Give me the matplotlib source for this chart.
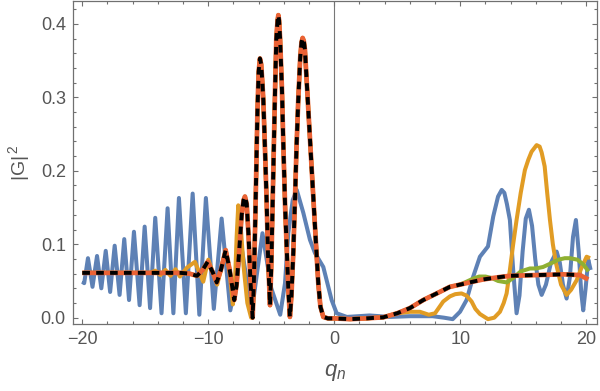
import numpy as np
import matplotlib
matplotlib.use("Agg")
import matplotlib.pyplot as plt
from matplotlib.ticker import MultipleLocator

plt.rcParams["font.family"] = ["Liberation Sans", "DejaVu Sans"]
plt.rcParams["mathtext.fontset"] = "custom"
plt.rcParams["mathtext.rm"] = "Liberation Sans"
plt.rcParams["mathtext.it"] = "Liberation Sans:italic"
plt.rcParams["lines.scale_dashes"] = False

# ---- data ----
blue_x = [-20, -19.85, -19.55, -19.19, -18.83, -18.49, -18.14, -17.79, -17.43, -17.04,
          -16.67, -16.29, -15.90, -15.45, -15.05, -14.62, -14.21, -13.71, -13.23, -12.77,
          -12.33, -11.78, -11.24, -10.71, -10.19, -9.56, -8.94, -8.25, -7.35, -6.55,
          -5.7, -5.0, -4.29, -3.91, -3.65, -3.3, -2.98, -2.46, -1.93, -1.53,
          -0.87, -0.21, 0.19, 1.0, 2.8, 4.4, 6.0, 7.8, 8.7, 9.4,
          9.98, 10.5, 11.03, 11.56, 12.2, 12.62, 13.0, 13.29, 13.5, 13.7,
          13.94, 14.2, 14.47, 14.7, 14.95, 15.2, 15.45, 15.7, 15.95, 16.2,
          16.46, 16.8, 17.2, 17.65, 17.9, 18.15, 18.44, 18.7, 18.95, 19.18,
          19.4, 19.6, 19.76, 19.95, 20.16, 20.35]
blue_y = [0.049, 0.047, 0.081, 0.042, 0.084, 0.040, 0.091, 0.035, 0.098, 0.031,
          0.107, 0.024, 0.117, 0.017, 0.124, 0.013, 0.136, 0.006, 0.149, 0.006,
          0.163, 0.006, 0.169, 0.004, 0.163, 0.012, 0.135, 0.010, 0.095, 0.008,
          0.115, 0.040, 0.004, 0.047, 0.115, 0.160, 0.174, 0.143, 0.106, 0.088,
          0.069, 0.024, 0.006, 0.001, 0.003, 0.001, 0.002, 0.002, 0.000, -0.002,
          0.008, 0.024, 0.056, 0.083, 0.097, 0.138, 0.165, 0.174, 0.170, 0.155,
          0.133, 0.065, 0.006, 0.030, 0.090, 0.135, 0.147, 0.125, 0.080, 0.045,
          0.031, 0.045, 0.075, 0.090, 0.075, 0.045, 0.026, 0.055, 0.110, 0.133,
          0.090, 0.035, 0.010, 0.040, 0.079, 0.065]

# shared middle part of the red / orange / green curves
mid_x = [-6.48, -6.38, -6.25, -6.1, -6.0, -5.9, -5.8, -5.7, -5.63, -5.5,
         -5.37, -5.25, -5.1, -5.0, -4.85, -4.7, -4.6, -4.5, -4.44, -4.38,
         -4.3, -4.15, -4.05, -3.9, -3.78, -3.65, -3.52, -3.4, -3.25, -3.12,
         -3.0, -2.86, -2.7, -2.6, -2.51, -2.42, -2.33, -2.0, -1.67, -1.45,
         -1.27, -1.1, -0.87, -0.5, 0.0, 1.25, 2.5, 3.89]
mid_y = [0.000, 0.050, 0.150, 0.280, 0.335, 0.353, 0.345, 0.318, 0.296, 0.230,
         0.160, 0.080, 0.017, 0.070, 0.190, 0.310, 0.380, 0.405, 0.412, 0.405,
         0.380, 0.310, 0.240, 0.150, 0.097, 0.040, 0.001, 0.030, 0.090, 0.160,
         0.230, 0.296, 0.355, 0.375, 0.381, 0.377, 0.365, 0.265, 0.166, 0.100,
         0.047, 0.015, 0.001, -0.001, -0.001, -0.002, -0.001, 0.0005]

red_left_x = [-20, -12.2, -11.5, -10.9, -10.45, -10.05, -9.65, -9.33, -9.0, -8.62,
              -8.3, -7.94, -7.75, -7.55, -7.35, -7.2, -7.09, -6.95, -6.8, -6.65]
red_left_y = [0.061, 0.061, 0.060, 0.057, 0.065, 0.076, 0.062, 0.048, 0.065, 0.092,
              0.065, 0.024, 0.045, 0.090, 0.140, 0.160, 0.165, 0.155, 0.110, 0.050]

red_right_x = [5.0, 6.0, 7.06, 8.13, 9.18, 9.98, 11.0, 11.8, 13.0, 13.94,
               16.06, 18.17, 19.5, 20.16]
red_right_y = [0.006, 0.013, 0.024, 0.033, 0.042, 0.045, 0.049, 0.052, 0.055, 0.057,
               0.058, 0.059, 0.058, 0.052]

orange_left_x = [-20, -14.6, -14.2, -13.8, -13.4, -13.0, -12.6, -12.25, -11.7, -11.06,
                 -10.4, -10.0, -9.29, -8.62, -8.3, -8.05, -7.9, -7.75, -7.62, -7.45,
                 -7.2, -6.9, -6.6]
orange_left_y = [0.061, 0.061, 0.064, 0.058, 0.065, 0.057, 0.066, 0.056, 0.068, 0.076,
                 0.049, 0.079, 0.045, 0.092, 0.060, 0.018, 0.040, 0.110, 0.153, 0.130,
                 0.070, 0.020, 0.000]

orange_right_x = [5.0, 6.0, 6.8, 7.5, 8.0, 8.65, 9.18, 9.6, 10.1, 10.5,
                  10.9, 11.2, 11.56, 12.2, 12.7, 13.15, 13.45, 13.68, 13.94, 14.2,
                  14.47, 14.8, 15.13, 15.4, 15.66, 16.06, 16.3, 16.46, 16.7, 16.9,
                  17.12, 17.35, 17.6, 18.0, 18.44, 18.8, 19.24, 19.6, 20.03, 20.3]
orange_right_y = [0.006, 0.008, 0.008, 0.004, 0.006, 0.022, 0.029, 0.032, 0.033, 0.030,
                  0.022, 0.012, 0.005, -0.002, 0.000, 0.008, 0.020, 0.033, 0.065, 0.100,
                  0.133, 0.170, 0.201, 0.215, 0.226, 0.235, 0.233, 0.225, 0.206, 0.170,
                  0.133, 0.100, 0.074, 0.045, 0.031, 0.038, 0.051, 0.067, 0.083, 0.081]

green_right_x = [10.5, 11.0, 11.5, 12.0, 12.5, 13.0, 13.68, 14.2, 14.8, 15.53,
                 16.0, 16.57, 17.2, 17.8, 18.3, 18.7, 19.3, 19.8, 20.17]
green_right_y = [0.049, 0.053, 0.056, 0.056, 0.054, 0.050, 0.048, 0.054, 0.063, 0.067,
                 0.067, 0.069, 0.074, 0.079, 0.081, 0.081, 0.079, 0.072, 0.063]

dash_end = 19.5

# ---- assemble curves ----
red_x = np.concatenate([red_left_x, mid_x, red_right_x])
red_y = np.concatenate([red_left_y, mid_y, red_right_y])
orange_x = np.concatenate([orange_left_x, mid_x, orange_right_x])
orange_y = np.concatenate([orange_left_y, mid_y, orange_right_y])
keep = red_x <= 9.98
green_x = np.concatenate([red_x[keep], green_right_x])
green_y = np.concatenate([red_y[keep], green_right_y])
dash = red_x <= dash_end

fig = plt.figure(figsize=(6.0, 3.91), dpi=100)
ax = fig.add_axes([0.1212, 0.1714, 0.8733, 0.8261])

lw = 2.9
kw = dict(solid_joinstyle="round", solid_capstyle="butt")
ax.plot(blue_x, blue_y, color="#5E81B5", lw=lw, **kw)
ax.plot(orange_x, orange_y, color="#E19C24", lw=lw, **kw)
ax.plot(green_x, green_y, color="#8FB032", lw=lw, **kw)
ax.plot(red_x, red_y, color="#EB6235", lw=3.4, **kw)
ax.plot(red_x[dash], red_y[dash], color="black", lw=2.8, dashes=(5.5, 4.5),
        dash_capstyle="butt", dash_joinstyle="round")

ax.axvline(0, color="#777777", lw=0.8, zorder=0.5)

ax.set_xlim(-20.76, 20.83)
ax.set_ylim(-0.0086, 0.4313)

frame = "#707070"
for s in ax.spines.values():
    s.set_color(frame)
    s.set_linewidth(0.9)
ax.xaxis.set_major_locator(MultipleLocator(10))
ax.xaxis.set_minor_locator(MultipleLocator(2))
ax.yaxis.set_major_locator(MultipleLocator(0.1))
ax.yaxis.set_minor_locator(MultipleLocator(0.02))
ax.yaxis.set_major_formatter(matplotlib.ticker.FormatStrFormatter("%.1f"))
ax.tick_params(which="both", direction="in", top=True, right=True,
               color=frame, width=0.8, labelcolor="#555555", labelsize=13, pad=5)
ax.tick_params(which="major", length=3.6)
ax.tick_params(which="minor", length=2.2)

ax.set_xlabel(r"$q_n$", fontsize=16, color="#555555", labelpad=10)
ax.set_ylabel(r"$\mathrm{|G|}^{\,2}$", fontsize=14, color="#555555", labelpad=6)

fig.savefig("out.png", dpi=100)
